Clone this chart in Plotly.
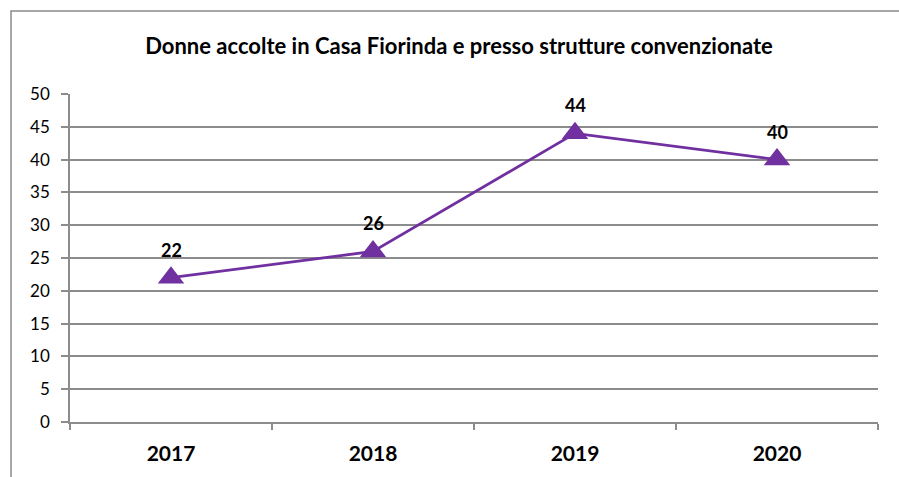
import plotly.graph_objects as go

years = ["2017", "2018", "2019", "2020"]
values = [22, 26, 44, 40]
title_text = "Donne accolte in Casa Fiorinda e presso strutture convenzionate"

FONT = "Lato"
GRID = "#8c8c8c"
PURPLE = "#7030A0"

W, H = 899, 477
L, R, T, B = 70, 21, 94, 55
pw, ph = W - L - R, H - T - B

fig = go.Figure()
fig.add_trace(go.Scatter(
    x=years, y=values, mode="lines+markers",
    line=dict(color=PURPLE, width=2.8),
    marker=dict(symbol="triangle-up", size=23, color=PURPLE),
    hoverinfo="skip", showlegend=False,
))

for i, yv in enumerate(values):
    fig.add_annotation(x=i, y=yv, xref="x", yref="y", text=str(yv), showarrow=False,
                       yshift=28, font=dict(family=FONT, size=18, color="black", weight="bold"))

# outer chart border: only top and left edges visible (reference is cropped)
bx0 = (11 - L) / pw
bx1 = (W - L) / pw
by0 = -B / ph
by1 = 1 + (T - 11) / ph
fig.add_shape(type="path", xref="paper", yref="paper",
              path=f"M {bx1},{by1} L {bx0},{by1} L {bx0},{by0}",
              line=dict(color="#8a8a8a", width=1.5), layer="below")

fig.update_layout(
    width=W, height=H,
    margin=dict(l=L, r=R, t=T, b=B),
    paper_bgcolor="white", plot_bgcolor="white",
    title=dict(text=title_text, x=459 / W, xanchor="center", xref="container",
               y=1 - 46 / H, yanchor="middle", yref="container",
               font=dict(family=FONT, size=22, color="black", weight="bold")),
    font=dict(family=FONT, color="black"),
)
fig.update_xaxes(type="category", tickson="boundaries", ticks="outside", ticklen=6,
                 tickcolor=GRID, tickwidth=1.5, showline=True, linecolor=GRID, linewidth=1.5,
                 showgrid=False, range=[-0.5, 3.5], ticklabelstandoff=12,
                 tickfont=dict(family=FONT, size=21, color="black", weight="bold"))
fig.update_yaxes(range=[0, 50], dtick=5, tick0=0, ticks="outside", ticklen=7,
                 tickcolor=GRID, tickwidth=1.5, showline=True, linecolor=GRID, linewidth=1.5,
                 showgrid=True, gridcolor=GRID, gridwidth=1.5, zeroline=False,
                 ticklabelstandoff=8,
                 tickfont=dict(family=FONT, size=17, color="black"))

fig.write_html("out.html", config={"displayModeBar": False},
               post_script="document.body.style.margin='0';")
